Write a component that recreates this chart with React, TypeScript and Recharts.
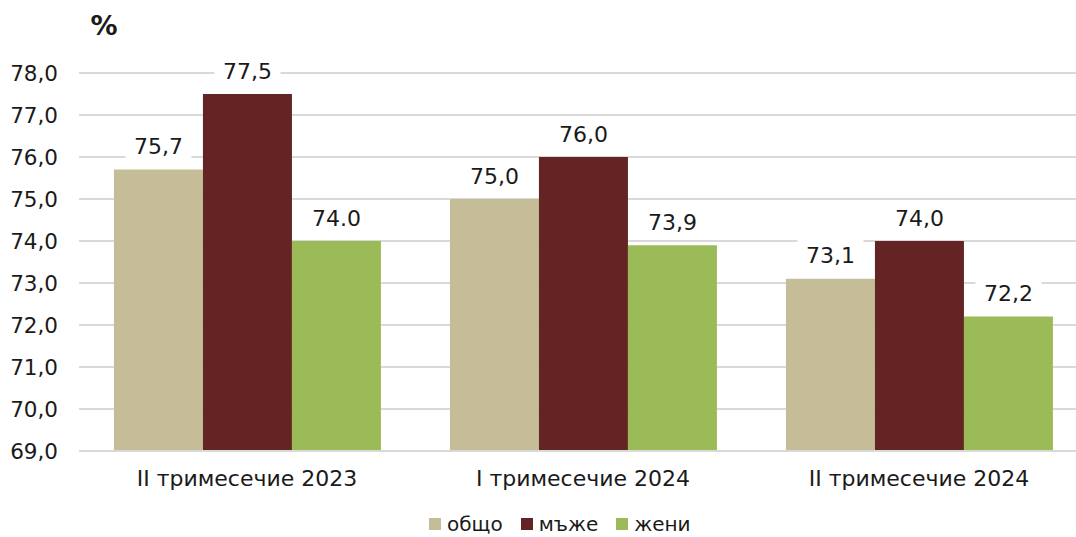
import React from 'react';
import { BarChart, Bar, XAxis, YAxis, CartesianGrid, Legend, LabelList } from 'recharts';

const categories = ['II тримесечие 2023', 'I тримесечие 2024', 'II тримесечие 2024'];
const totalValues = [75.7, 75.0, 73.1];
const menValues = [77.5, 76.0, 74.0];
const womenValues = [74.0, 73.9, 72.2];
const totalLabels = ['75,7', '75,0', '73,1'];
const menLabels = ['77,5', '76,0', '74,0'];
const womenLabels = ['74.0', '73,9', '72,2'];
const seriesNames = ['общо', 'мъже', 'жени'];
const yTicks = [69, 70, 71, 72, 73, 74, 75, 76, 77, 78];

const data = categories.map((c, i) => ({
  cat: c,
  total: totalValues[i],
  men: menValues[i],
  women: womenValues[i],
  totalLbl: totalLabels[i],
  menLbl: menLabels[i],
  womenLbl: womenLabels[i],
}));

const FONT = '"DejaVu Sans", Verdana, sans-serif';
const TEXT = '#1a1a1a';

const BoxLabel = (props: any) => {
  const { x, y, width, value } = props;
  const cx = x + width / 2;
  const cy = y - 23;
  const w = String(value).length * 14 + 10;
  return (
    <g>
      <rect x={cx - w / 2} y={cy - 16} width={w} height={32} fill="#ffffff" />
      <text x={cx} y={cy} textAnchor="middle" dominantBaseline="central" fontSize={22} fontFamily={FONT} fill={TEXT}>
        {value}
      </text>
    </g>
  );
};

const PercentLabel = () => (
  <text x={104} y={35} textAnchor="middle" fontSize={27} fontWeight="bold" fontFamily={FONT} fill={TEXT}>
    %
  </text>
);

const LegendContent = (props: any) => {
  const items = [...(props.payload || [])].sort(
    (a: any, b: any) => seriesNames.indexOf(a.value) - seriesNames.indexOf(b.value)
  );
  return (
    <div style={{ display: 'flex', alignItems: 'center', fontFamily: FONT, fontSize: 20, color: TEXT, lineHeight: '22px', height: 22 }}>
      {items.map((it: any) => (
        <div key={it.value} style={{ display: 'flex', alignItems: 'center', marginRight: 18 }}>
          <span style={{ display: 'inline-block', width: 12, height: 12, background: it.color, marginRight: 6 }} />
          <span>{it.value}</span>
        </div>
      ))}
    </div>
  );
};

export default function App() {
  return (
    <div style={{ position: 'absolute', left: 0, top: 0, width: 1076, height: 537, overflow: 'hidden', background: '#fff' }}>
      <BarChart
        width={1091}
        height={537}
        data={data}
        margin={{ top: 73, right: 4, bottom: 56, left: 0 }}
        barCategoryGap="10.4%"
        barGap={0}
      >
        <CartesianGrid vertical={false} stroke="#D9D9D9" strokeWidth={2} />
        <XAxis
          dataKey="cat"
          height={30}
          tickLine={false}
          tickMargin={13}
          axisLine={{ stroke: '#D9D9D9', strokeWidth: 2 }}
          tick={{ fontSize: 22, fontFamily: FONT, fill: TEXT }}
        />
        <YAxis
          width={79}
          domain={[69, 78]}
          ticks={yTicks}
          interval={0}
          allowDataOverflow
          axisLine={false}
          tickLine={false}
          tickMargin={15}
          tickFormatter={(v: number) => v.toFixed(1).replace('.', ',')}
          tick={{ fontSize: 21.5, fontFamily: FONT, fill: TEXT }}
          label={{ content: PercentLabel }}
        />
        <Legend
          verticalAlign="middle"
          align="center"
          content={LegendContent}
          wrapperStyle={{ top: 513, left: 429, width: 'auto', height: 22 }}
        />
        <Bar dataKey="total" name={seriesNames[0]} fill="#C4BD97" isAnimationActive={false}>
          <LabelList dataKey="totalLbl" content={BoxLabel} />
        </Bar>
        <Bar dataKey="men" name={seriesNames[1]} fill="#632423" isAnimationActive={false}>
          <LabelList dataKey="menLbl" content={BoxLabel} />
        </Bar>
        <Bar dataKey="women" name={seriesNames[2]} fill="#9BBB59" isAnimationActive={false}>
          <LabelList dataKey="womenLbl" content={BoxLabel} />
        </Bar>
      </BarChart>
    </div>
  );
}
